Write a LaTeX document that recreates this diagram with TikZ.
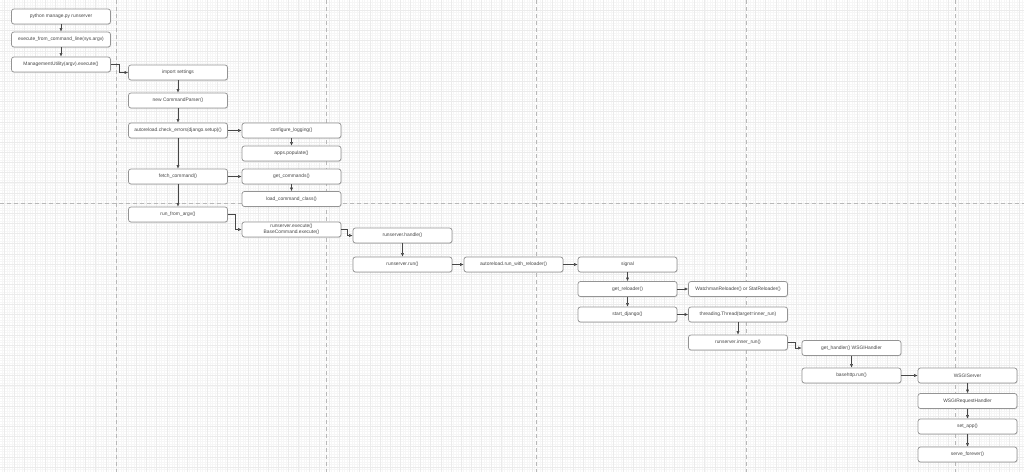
\documentclass[tikz,border=0pt]{standalone}
\usepackage{fontspec}
\setmainfont{Liberation Sans}
\usetikzlibrary{arrows.meta,shadows}

\tikzset{
  box/.style={draw=black!42, fill=white, line width=0.38pt, rounded corners=1.2pt,
    minimum width=49.5pt, minimum height=7.5pt, inner sep=0.4pt, align=center,
    font=\fontsize{2.45}{3}\selectfont, text=black!72,
    drop shadow={shadow xshift=0.3pt, shadow yshift=-0.4pt, opacity=0.2}},
  conn/.style={draw=black!72, line width=0.25pt, -{Latex[length=1.7pt,width=1.5pt]}},
  minorgrid/.style={draw=black!3.5, line width=0.2pt},
  majorgrid/.style={draw=black!8, line width=0.25pt},
  pagebreak/.style={draw=black!28, line width=0.3pt, dash pattern=on 2pt off 1.5pt}
}

\begin{document}
\begin{tikzpicture}[x=0.5pt, y=-0.5pt]
        \useasboundingbox (0,0) rectangle (1024,472);
        \fill[white] (0,0) rectangle (1024,472);

        % mrizka
        \foreach \i in {-45,...,357}
            \draw[minorgrid] ({116+\i*2.5375},0) -- ++(0,472);
        \foreach \i in {-79,...,105}
            \draw[minorgrid] (0,{203+\i*2.5375}) -- ++(1024,0);
        \foreach \i in {-11,...,89}
            \draw[majorgrid] ({116+\i*10.15},0) -- ++(0,472);
        \foreach \i in {-19,...,26}
            \draw[majorgrid] (0,{203+\i*10.15}) -- ++(1024,0);

        % hranice stranek
        \foreach \x in {116,326,536,746,955}
            \draw[pagebreak] (\x,0) -- ++(0,472);
        \draw[pagebreak] (0,203) -- ++(1024,0);

        % manage.py
        \node[box] (py) at (61,16.5) {python manage.py runserver};
        \node[box] (cmdline) at (61,39.5) {execute\_from\_command\_line(sys.argv)};
        \node[box] (utility) at (61,64.5) {ManagementUtility(argv).execute()};

        % ManagementUtility.execute
        \node[box] (settings) at (178,72.5) {import settings};
        \node[box] (parser) at (178,100.5) {new CommandParser()};
        \node[box] (checkerr) at (178,130.5) {autoreload.check\_errors(django.setup)()};
        \node[box] (fetch) at (178,176.5) {fetch\_command()};
        \node[box] (fromargv) at (178,214.5) {run\_from\_argv()};

        \node[box] (logging) at (291.5,130.5) {configure\_logging()};
        \node[box] (populate) at (291.5,153.5) {apps.populate()};
        \node[box] (getcmds) at (291.5,176.5) {get\_commands()};
        \node[box] (loadcls) at (291.5,199) {load\_command\_class()};
        \node[box] (rsexec) at (291.5,229.5) {runserver.execute()\\BaseCommand.execute()};

        % runserver
        \node[box] (handle) at (402.5,235.5) {runserver.handle()};
        \node[box] (rsrun) at (402.5,264.5) {runserver.run()};
        \node[box] (withrel) at (513.5,264.5) {autoreload.run\_with\_reloader()};
        \node[box] (signal) at (627.5,264.5) {signal};
        \node[box] (getrel) at (627.5,289) {get\_reloader()};
        \node[box] (startdj) at (627.5,314.5) {start\_django()};
        \node[box] (watchman) at (738,289) {WatchmanReloader() or StatReloader()};
        \node[box] (thread) at (738,314.5) {threading.Thread(target=inner\_run)};
        \node[box] (innerrun) at (738,342.5) {runserver.inner\_run()};

        % wsgi
        \node[box] (handler) at (851.5,348) {get\_handler() WSGIHandler};
        \node[box] (bhrun) at (851.5,375.5) {basehttp.run()};
        \node[box] (server) at (967.5,375.5) {WSGIServer};
        \node[box] (reqhandler) at (967.5,401) {WSGIRequestHandler};
        \node[box] (setapp) at (967.5,426.5) {set\_app()};
        \node[box] (forever) at (967.5,454.5) {serve\_forever()};

        % sipky
        \draw[conn] (py) -- (cmdline);
        \draw[conn] (cmdline) -- (utility);
        \draw[conn] (utility.east) -- ++(8,0) |- (settings.west);
        \draw[conn] (settings) -- (parser);
        \draw[conn] (parser) -- (checkerr);
        \draw[conn] (checkerr) -- (fetch);
        \draw[conn] (fetch) -- (fromargv);
        \draw[conn] (checkerr) -- (logging);
        \draw[conn] (logging) -- (populate);
        \draw[conn] (fetch) -- (getcmds);
        \draw[conn] (getcmds) -- (loadcls);
        \draw[conn] (fromargv.east) -- ++(7,0) |- (rsexec.west);
        \draw[conn] (rsexec.east) -- ++(6,0) |- (handle.west);
        \draw[conn] (handle) -- (rsrun);
        \draw[conn] (rsrun) -- (withrel);
        \draw[conn] (withrel) -- (signal);
        \draw[conn] (signal) -- (getrel);
        \draw[conn] (getrel) -- (startdj);
        \draw[conn] (getrel) -- (watchman);
        \draw[conn] (startdj) -- (thread);
        \draw[conn] (thread) -- (innerrun);
        \draw[conn] (innerrun.east) -- ++(7,0) |- (handler.west);
        \draw[conn] (handler) -- (bhrun);
        \draw[conn] (bhrun) -- (server);
        \draw[conn] (server) -- (reqhandler);
        \draw[conn] (reqhandler) -- (setapp);
        \draw[conn] (setapp) -- (forever);

    \end{tikzpicture}
\end{document}
